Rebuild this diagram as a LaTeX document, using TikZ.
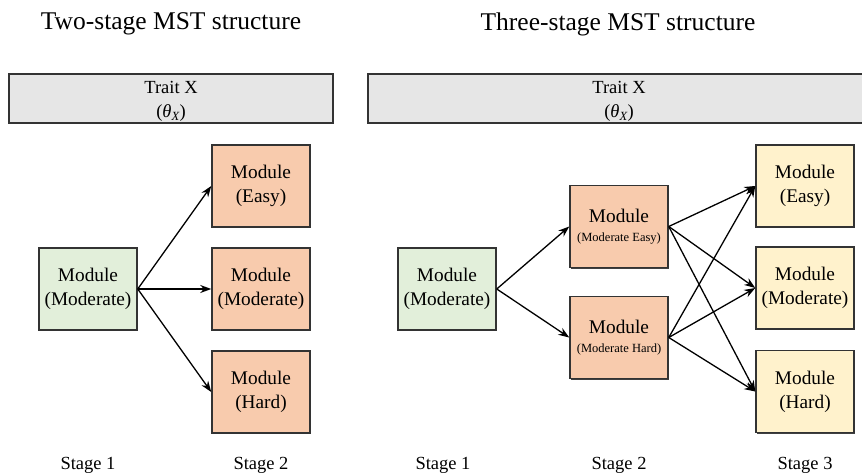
\documentclass[tikz,border=0pt]{standalone}
\usepackage{fontspec}
\setmainfont{Liberation Serif}
\usetikzlibrary{arrows.meta,shadows}

\definecolor{easygreen}{HTML}{E2EFDA}
\definecolor{midorange}{HTML}{F8CBAD}
\definecolor{lightyellow}{HTML}{FFF2CC}
\definecolor{bargray}{HTML}{E6E6E6}
\definecolor{edgegray}{HTML}{333333}

\newcommand{\modfont}{\rmfamily\fontsize{19.3bp}{24bp}\selectfont}
\newcommand{\notefont}{\rmfamily\fontsize{12.5bp}{15bp}\selectfont}

\tikzset{
  modbox/.style={draw=edgegray, line width=1.5bp, minimum width=98bp, minimum height=82bp,
    inner sep=0pt, align=center, font=\modfont,
    drop shadow={shadow xshift=1.2bp, shadow yshift=-1.2bp, fill=black!75, opacity=1}},
  startmod/.style={modbox, fill=easygreen},
  stagetwo/.style={modbox, fill=midorange},
  stagethree/.style={modbox, fill=lightyellow},
  traitbar/.style={draw=edgegray, line width=1.4bp, fill=bargray,
    drop shadow={shadow xshift=1.2bp, shadow yshift=-1.5bp, fill=black!80, opacity=1}},
  heading/.style={font=\rmfamily\fontsize{25.5bp}{30bp}\selectfont},
  stagelabel/.style={font=\rmfamily\fontsize{18.5bp}{22bp}\selectfont},
  traittext/.style={align=center, font=\rmfamily\fontsize{18.5bp}{24bp}\selectfont},
  link/.style={line width=1.3bp, -{Stealth[length=11bp,width=8bp]}}
}

\newcommand{\thetaX}{(\textit{θ}\raisebox{-0.45ex}{\fontsize{12.5bp}{14bp}\selectfont\textit{X}})}

\begin{document}
\begin{tikzpicture}[x=1bp, y=-1bp]
\useasboundingbox (0,0) rectangle (862,475);
\begin{scope}
\clip (0,0) rectangle (862,475);

% headings
\node[heading] (titleA) at (171,24) {Two-stage MST structure};
\node[heading] (titleB) at (618,24) {Three-stage MST structure};

% latent trait bars
\path[traitbar] (9,74) rectangle (333,123);
\path[traitbar] (368,74) rectangle (880,123);
\node[traittext] (traitA) at (171,101) {Trait X\\\thetaX};
\node[traittext] (traitB) at (619,101) {Trait X\\\thetaX};

% two-stage design
\node[startmod] (a1) at (88,289) {Module\\(Moderate)};
\node[stagetwo] (a2e) at (261,186) {Module\\(Easy)};
\node[stagetwo] (a2m) at (261,289) {Module\\(Moderate)};
\node[stagetwo] (a2h) at (261,392) {Module\\(Hard)};

\draw[link] (a1.east) -- (a2e.west);
\draw[link] (a1.east) -- (a2m.west);
\draw[link] (a1.east) -- (a2h.west);

% three-stage design
\node[startmod] (b1) at (447,289) {Module\\(Moderate)};
\node[stagetwo] (b2e) at (619,226.5) {Module\\[-5bp]{\notefont(Moderate Easy)}};
\node[stagetwo] (b2h) at (619,337.5) {Module\\[-5bp]{\notefont(Moderate Hard)}};
\node[stagethree] (b3e) at (805,186) {Module\\(Easy)};
\node[stagethree] (b3m) at (805,288) {Module\\(Moderate)};
\node[stagethree] (b3h) at (805,391.5) {Module\\(Hard)};

\draw[link] (b1.east) -- (b2e.west);
\draw[link] (b1.east) -- (b2h.west);
\foreach \src in {b2e,b2h}{
  \draw[link] (\src.east) -- (b3e.west);
  \draw[link] (\src.east) -- (b3m.west);
  \draw[link] (\src.east) -- (b3h.west);
}

% stage captions
\node[stagelabel] (sA1) at (88,465) {Stage 1};
\node[stagelabel] (sA2) at (261,465) {Stage 2};
\node[stagelabel] (sB1) at (443,465) {Stage 1};
\node[stagelabel] (sB2) at (619,465) {Stage 2};
\node[stagelabel] (sB3) at (805,465) {Stage 3};
\end{scope}
\end{tikzpicture}
\end{document}
